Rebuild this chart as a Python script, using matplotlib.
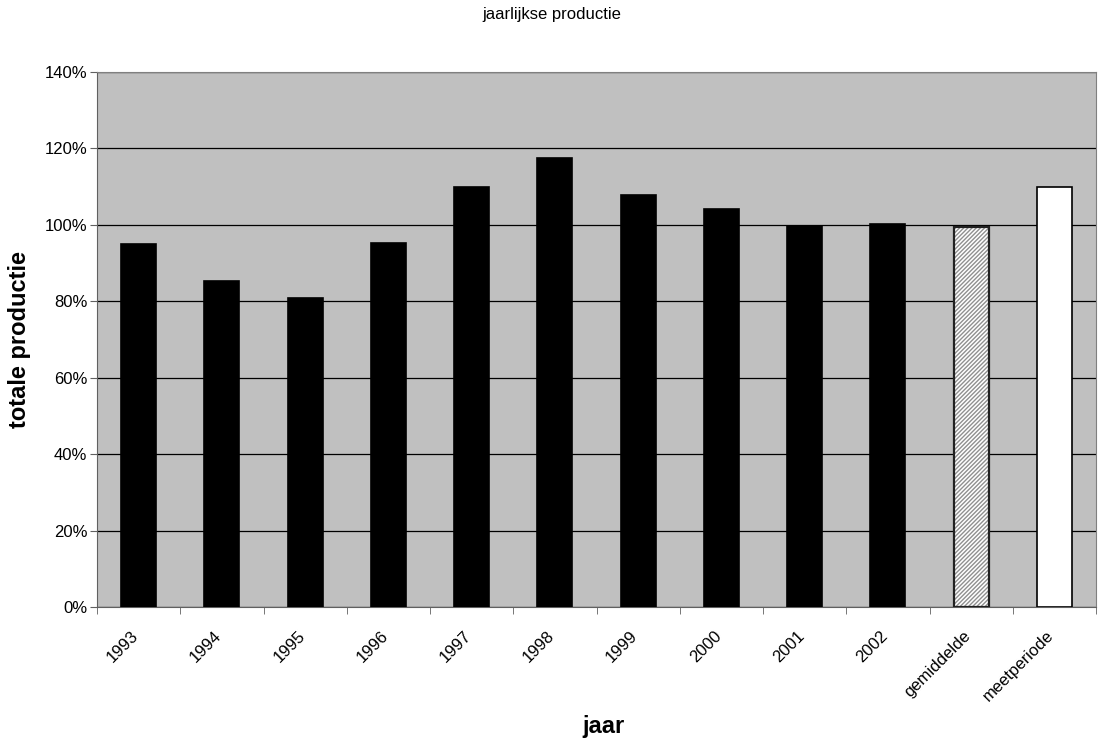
import matplotlib.pyplot as plt
import matplotlib.transforms as mtransforms
import numpy as np

plt.rcParams['font.family'] = ['Liberation Sans', 'DejaVu Sans']

# data
categories = ["1993", "1994", "1995", "1996", "1997", "1998", "1999",
              "2000", "2001", "2002", "gemiddelde", "meetperiode"]
values = [95.0, 85.3, 80.9, 95.3, 109.9, 117.5, 107.8,
          104.2, 99.7, 100.2, 99.5, 109.9]
yticks = [0, 20, 40, 60, 80, 100, 120, 140]

fig = plt.figure(figsize=(11.04, 7.4), dpi=100)
ax = fig.add_axes([0.0879, 0.1797, 0.9049, 0.7230])
ax.set_facecolor('#c0c0c0')

x = np.arange(len(categories))
bars = ax.bar(x, values, width=0.42, color='black', edgecolor='black',
              linewidth=1.2, zorder=3)
# gemiddelde: gearceerd (grijze arcering), meetperiode: wit
bars[10].set_facecolor('white')
bars[10].set_edgecolor('#909090')
bars[10].set_linewidth(0)
bars[10].set_hatch('////////')
ax.bar(x[10], values[10], width=0.42, fill=False, edgecolor='#202020',
       linewidth=1.6, zorder=4)
bars[11].set_facecolor('white')

ax.set_xlim(-0.5, len(categories) - 0.5)
ax.set_ylim(0, 140)
ax.set_yticks(yticks)
ax.set_yticklabels(["{}%".format(v) for v in yticks], fontsize=12)
ax.grid(True, axis='y', color='black', linewidth=0.9, zorder=1)

ax.set_xticks(x)
ax.set_xticklabels(categories, rotation=45, ha='right', rotation_mode='anchor',
                   fontsize=12)
ax.tick_params(axis='x', which='major', length=0, pad=15)
shift = mtransforms.ScaledTranslation(-8 / 100, 0, fig.dpi_scale_trans)
for lbl in ax.get_xticklabels():
    lbl.set_transform(lbl.get_transform() + shift)
ax.set_xticks(np.arange(-0.5, len(categories), 1), minor=True)
ax.tick_params(axis='x', which='minor', length=5, color='#606060')
ax.tick_params(axis='y', length=5, color='#606060', pad=2)

for s in ['top', 'right']:
    ax.spines[s].set_color('#808080')
for s in ['left', 'bottom']:
    ax.spines[s].set_color('#606060')

fig.text(20 / 1104, 1 - 340 / 740, "totale productie", rotation=90,
         ha='center', va='center', fontsize=17, fontweight='bold')
fig.text(604 / 1104, 1 - 726 / 740, "jaar", ha='center', va='center',
         fontsize=17, fontweight='bold')
fig.text(0.5, 1 - 14 / 740, "jaarlijkse productie", ha='center', va='center',
         fontsize=12)

plt.savefig("out.png", dpi=100)
